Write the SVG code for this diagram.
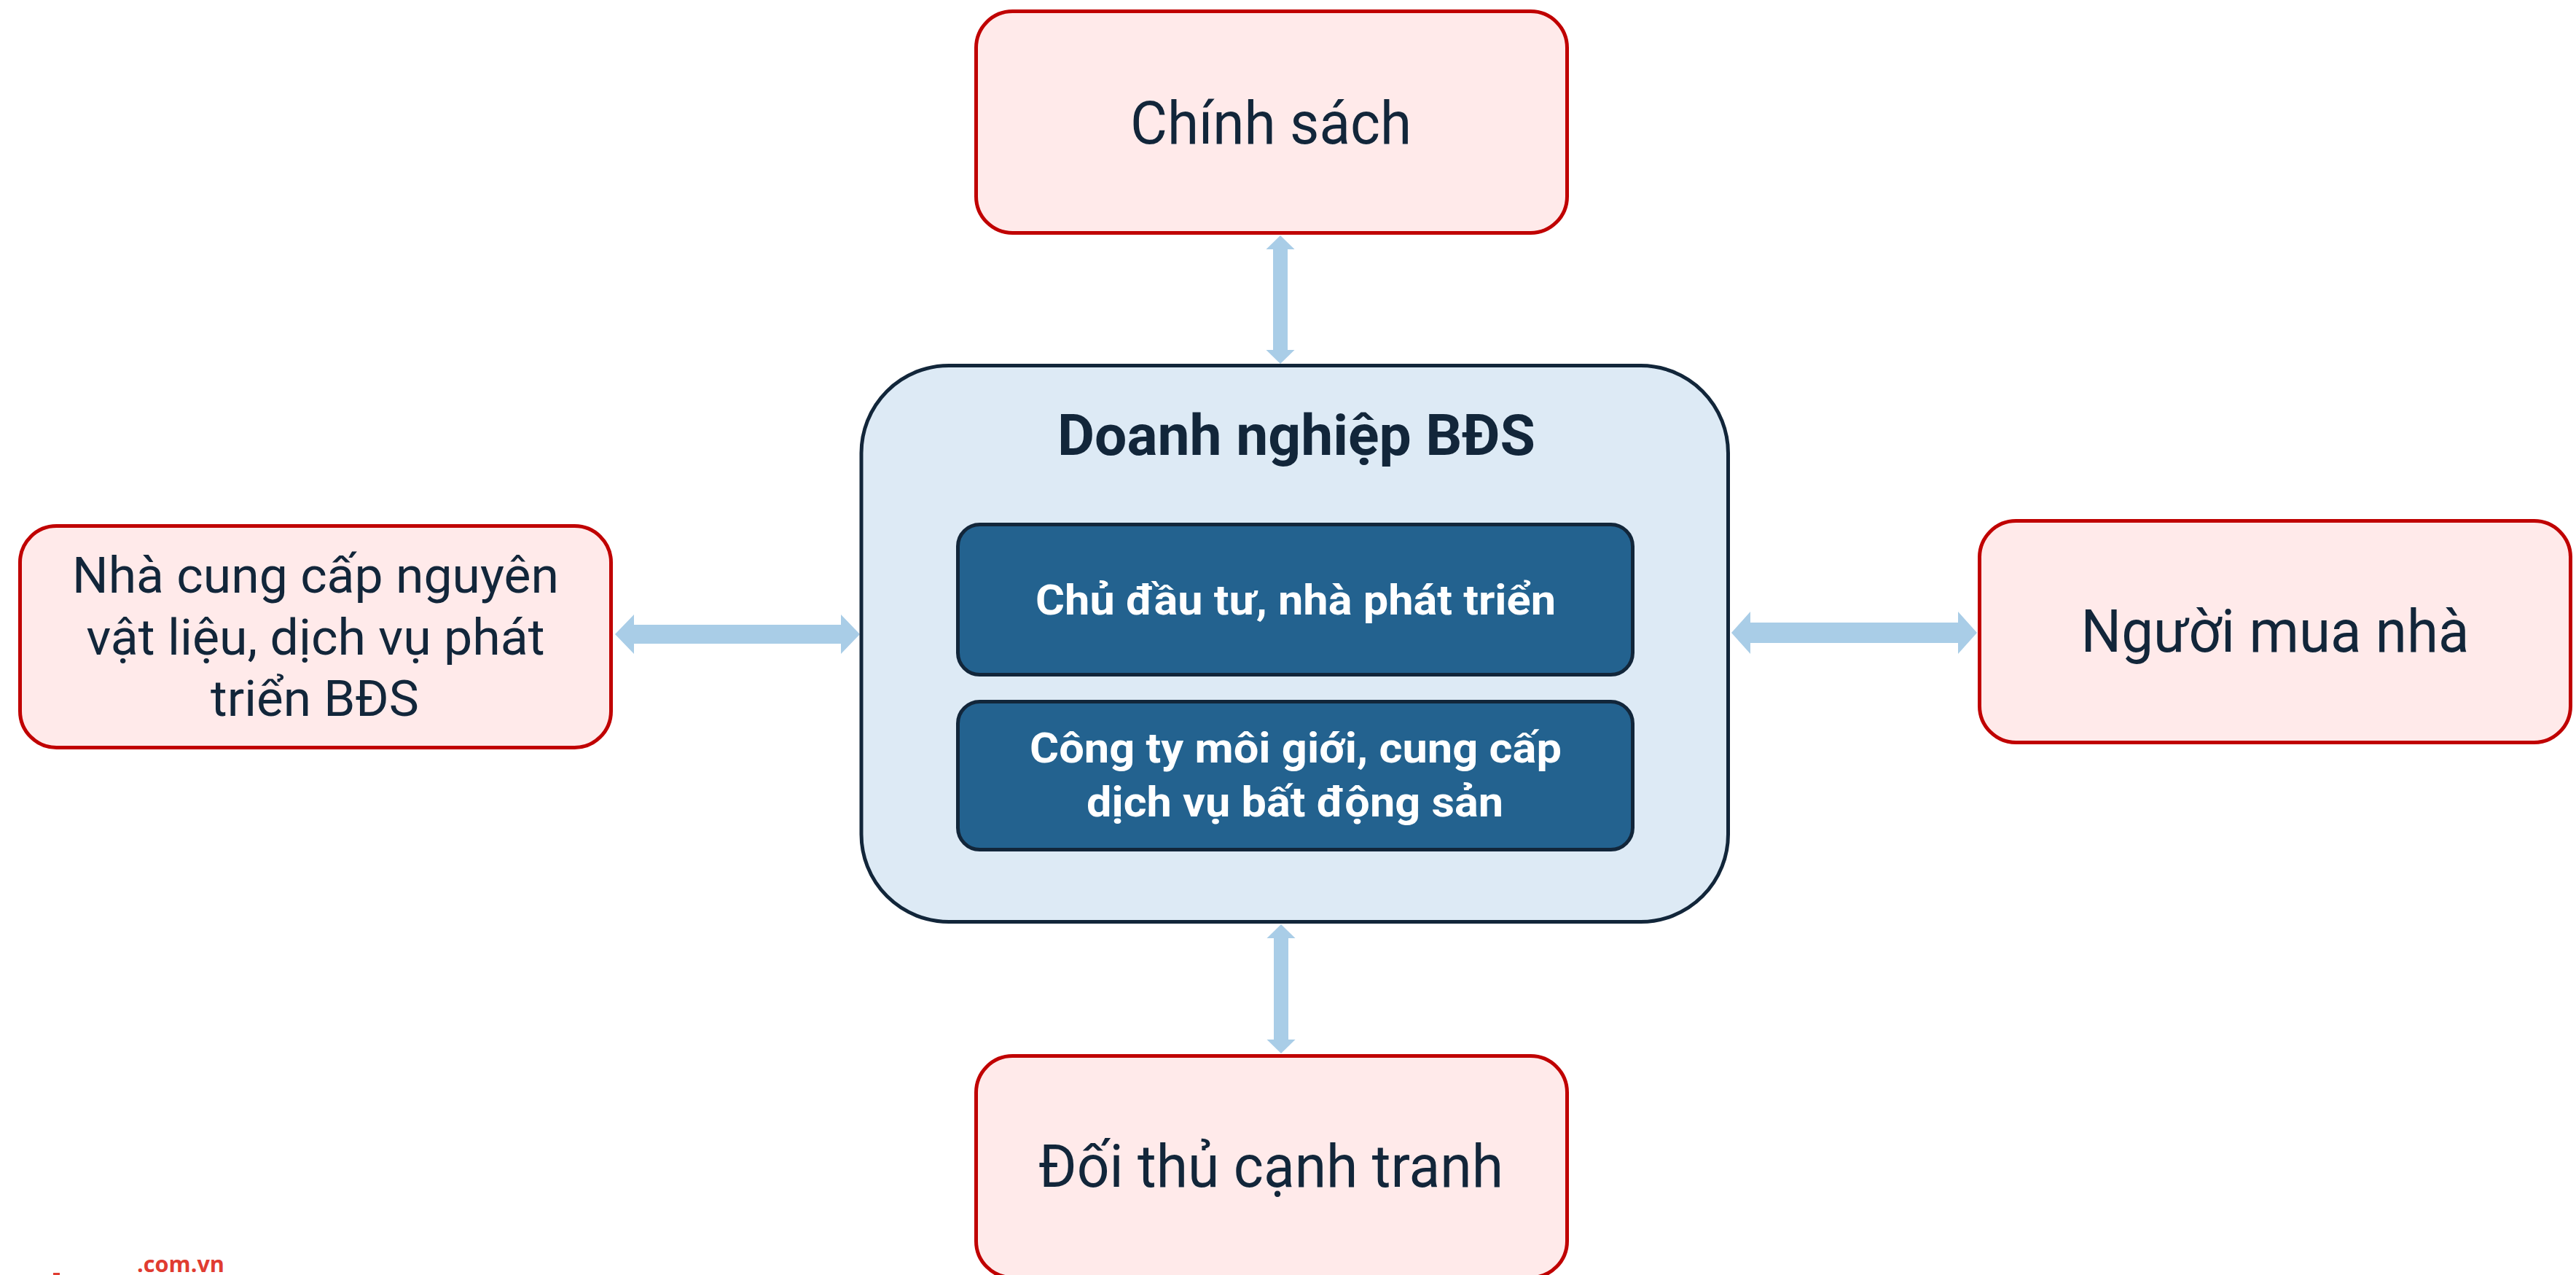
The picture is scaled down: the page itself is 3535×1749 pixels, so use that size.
<svg xmlns="http://www.w3.org/2000/svg" width="3535" height="1749" viewBox="0 0 3535 1749">
<style>
.ext rect{fill:#ffeaea;stroke:#c00000;stroke-width:5}
.ext text{font-family:Roboto,"Liberation Sans",sans-serif;font-size:82px;fill:#12263a;text-anchor:middle}
.main{fill:#ddeaf5;stroke:#12263a;stroke-width:5}
.inner rect{fill:#23628f;stroke:#12263a;stroke-width:5}
.inner text{font-family:Roboto,"Liberation Sans",sans-serif;font-weight:bold;font-size:58px;fill:#ffffff;text-anchor:middle}
.title{font-family:Roboto,"Liberation Sans",sans-serif;font-weight:bold;font-size:78px;fill:#12263a;text-anchor:middle}
.arrow{fill:#a9cde7}
</style>
<rect width="3535" height="1749" fill="#ffffff"/>
<g id="connectors">
<polygon class="arrow" points="1757,323 1776.5,342 1767,342 1767,480 1776.5,480 1757,499 1737.5,480 1747,480 1747,342 1737.5,342"/>
<polygon class="arrow" points="1758,1268 1777.5,1287 1768,1287 1768,1426 1777.5,1426 1758,1445 1738.5,1426 1748,1426 1748,1287 1738.5,1287"/>
<polygon class="arrow" points="844,870 870,843 870,857 1154,857 1154,843 1180,870 1154,897 1154,883 870,883 870,897"/>
<polygon class="arrow" points="2376,868 2402,839 2402,854 2687,854 2687,839 2713,868 2687,897 2687,882 2402,882 2402,897"/>
</g>
<g id="node-chinh-sach" class="ext">
<rect x="1339.5" y="15.5" width="811" height="304" rx="50" ry="50"/>
<text x="1744" y="197" textLength="386" lengthAdjust="spacingAndGlyphs">Chính sách</text>
</g>
<g id="node-nha-cung-cap" class="ext">
<rect x="27.5" y="721.5" width="811" height="304" rx="50" ry="50"/>
<text x="433" y="813" style="font-size:69px" textLength="668" lengthAdjust="spacingAndGlyphs">Nhà cung cấp nguyên</text>
<text x="433" y="898" style="font-size:69px" textLength="629" lengthAdjust="spacingAndGlyphs">vật liệu, dịch vụ phát</text>
<text x="432" y="982" style="font-size:69px" textLength="286" lengthAdjust="spacingAndGlyphs">triển BĐS</text>
</g>
<g id="node-nguoi-mua-nha" class="ext">
<rect x="2716.5" y="714.5" width="811" height="304" rx="50" ry="50"/>
<text x="3122" y="894" textLength="533" lengthAdjust="spacingAndGlyphs">Người mua nhà</text>
</g>
<g id="node-doi-thu" class="ext">
<rect x="1339.5" y="1448.5" width="811" height="304" rx="50" ry="50"/>
<text x="1744" y="1628" textLength="638" lengthAdjust="spacingAndGlyphs">Đối thủ cạnh tranh</text>
</g>
<g id="node-doanh-nghiep">
<rect class="main" x="1182" y="501.5" width="1189.5" height="763" rx="120" ry="120"/>
<text class="title" x="1779" y="624" textLength="656" lengthAdjust="spacingAndGlyphs">Doanh nghiệp BĐS</text>
</g>
<g id="node-chu-dau-tu" class="inner">
<rect x="1314.5" y="719.5" width="926" height="206" rx="30" ry="30"/>
<text x="1778" y="843" textLength="714" lengthAdjust="spacingAndGlyphs">Chủ đầu tư, nhà phát triển</text>
</g>
<g id="node-cong-ty-moi-gioi" class="inner">
<rect x="1314.5" y="962.5" width="926" height="203" rx="30" ry="30"/>
<text x="1778" y="1046" textLength="730" lengthAdjust="spacingAndGlyphs">Công ty môi giới, cung cấp</text>
<text x="1777" y="1120" textLength="572" lengthAdjust="spacingAndGlyphs">dịch vụ bất động sản</text>
</g>
<g id="logo">
<rect x="73" y="1746" width="9" height="3" fill="#e03c31"/>
<text x="188" y="1745" style="font-family:'Open Sans','Liberation Sans',sans-serif;font-weight:bold;font-size:30px;fill:#e03c31" textLength="120" lengthAdjust="spacingAndGlyphs">.com.vn</text>
</g>
</svg>
